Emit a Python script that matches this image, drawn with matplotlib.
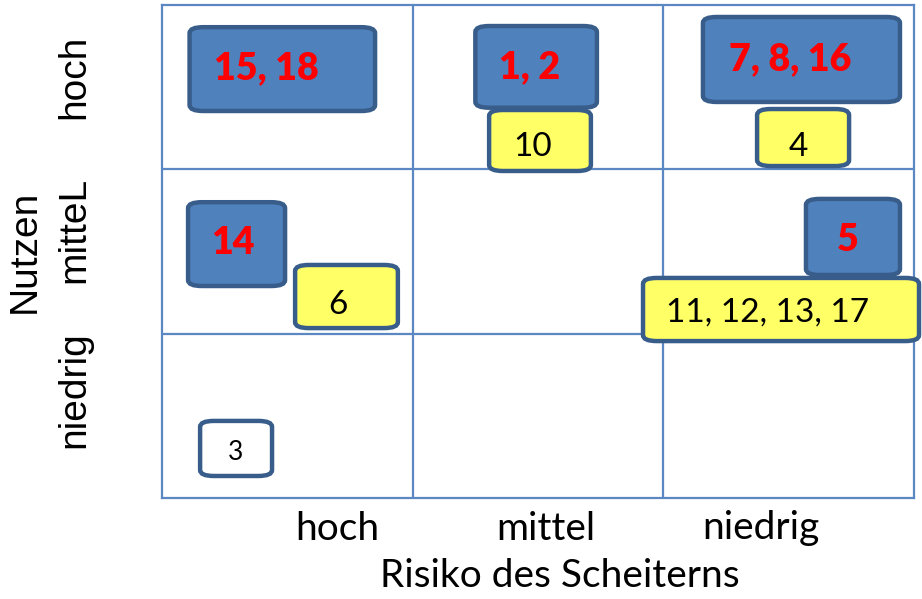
import matplotlib
matplotlib.use("Agg")
import matplotlib.pyplot as plt
from matplotlib.patches import FancyBboxPatch

# ---- data ----
risk_levels = ["hoch", "mittel", "niedrig"]          # x categories (Risiko des Scheiterns)
benefit_levels = ["niedrig", "mitteL", "hoch"]        # y categories (Nutzen), bottom to top
item_labels = ["15, 18", "1, 2", "7, 8, 16", "14", "5", "10", "4", "6", "11, 12, 13, 17", "3"]
item_risk = ["hoch", "mittel", "niedrig", "hoch", "niedrig", "mittel", "niedrig", "hoch", "niedrig", "hoch"]
item_benefit = ["hoch", "hoch", "hoch", "mitteL", "mitteL", "hoch", "hoch", "mitteL", "mitteL", "niedrig"]
item_group = ["blue", "blue", "blue", "blue", "blue", "yellow", "yellow", "yellow", "yellow", "white"]

# ---- layout (box extents inside the cell, in cell units: x0, x1, y0, y1; text anchor) ----
layout = [
    (0.11, 0.85, 0.355, 0.865, 0.415, 0.617),
    (0.25, 0.735, 0.375, 0.872, 0.468, 0.623),
    (0.158, 0.944, 0.41, 0.927, 0.505, 0.671),
    (0.104, 0.491, 0.29, 0.80, 0.283, 0.552),
    (0.569, 0.944, 0.357, 0.82, 0.737, 0.570),
    (0.305, 0.711, -0.01, 0.361, 0.480, 0.136),
    (0.374, 0.741, 0.02, 0.367, 0.537, 0.136),
    (0.531, 0.941, 0.034, 0.418, 0.702, 0.174),
    (-0.081, 1.02, -0.045, 0.339, 0.414, 0.126),
    (0.152, 0.439, 0.134, 0.469, 0.295, 0.274),
]
styles = {
    "blue": dict(fc="#4F81BD", tc="#FF0000", weight="heavy", size=27, z=3),
    "yellow": dict(fc="#FFFF66", tc="#000000", weight="normal", size=24, z=4),
    "white": dict(fc="#FFFFFF", tc="#000000", weight="normal", size=19, z=4),
}
edge_color = "#385D8A"
grid_color = "#5B87C2"

W, H = 922, 599
fig = plt.figure(figsize=(W / 100, H / 100), dpi=100)
x0p, x1p, y0p, y1p = 162, 914, 5, 498
ax = fig.add_axes([x0p / W, 1 - y1p / H, (x1p - x0p) / W, (y1p - y0p) / H])
ax.set_xlim(0, len(risk_levels))
ax.set_ylim(0, len(benefit_levels))

# grid
for i in range(1, len(risk_levels)):
    ax.axvline(i, color=grid_color, lw=1.6, zorder=1)
for j in range(1, len(benefit_levels)):
    ax.axhline(j, color=grid_color, lw=1.6, zorder=1)
for s in ax.spines.values():
    s.set_color(grid_color)
    s.set_linewidth(1.6)

cell_w_px = (x1p - x0p) / len(risk_levels)
cell_h_px = (y1p - y0p) / len(benefit_levels)
aspect = cell_w_px / cell_h_px

for lab, r, b, g, lay in zip(item_labels, item_risk, item_benefit, item_group, layout):
    cx = risk_levels.index(r)
    cy = benefit_levels.index(b)
    bx0, bx1, by0, by1, tx, ty = lay
    st = styles[g]
    patch = FancyBboxPatch((cx + bx0, cy + by0), bx1 - bx0, by1 - by0,
                           boxstyle="round,pad=0,rounding_size=0.055",
                           mutation_aspect=1 / aspect,
                           fc=st["fc"], ec=edge_color, lw=3.2, zorder=st["z"],
                           clip_on=False)
    ax.add_patch(patch)
    ax.text(cx + tx, cy + ty, lab, color=st["tc"], fontsize=st["size"],
            fontweight=st["weight"], family="Lato", ha="center", va="center",
            zorder=st["z"] + 0.5)

# ticks
ax.set_xticks([0.70, 1.53, 2.39])
ax.set_xticklabels(risk_levels, family="Lato", fontsize=28)
ax.set_yticks([0.66, 1.63, 2.56])
ax.set_yticklabels(benefit_levels, family="Liberation Sans", fontsize=28,
                   rotation=90, va="center", ha="right")
ax.tick_params(axis="x", length=0, pad=9)
ax.tick_params(axis="y", length=0, pad=50)

ax.set_xlabel("Risiko des Scheiterns", family="Lato", fontsize=28, x=0.529, labelpad=8)
ax.set_ylabel("Nutzen", family="Liberation Sans", fontsize=28, labelpad=10)

fig.savefig("out.png", dpi=100)
